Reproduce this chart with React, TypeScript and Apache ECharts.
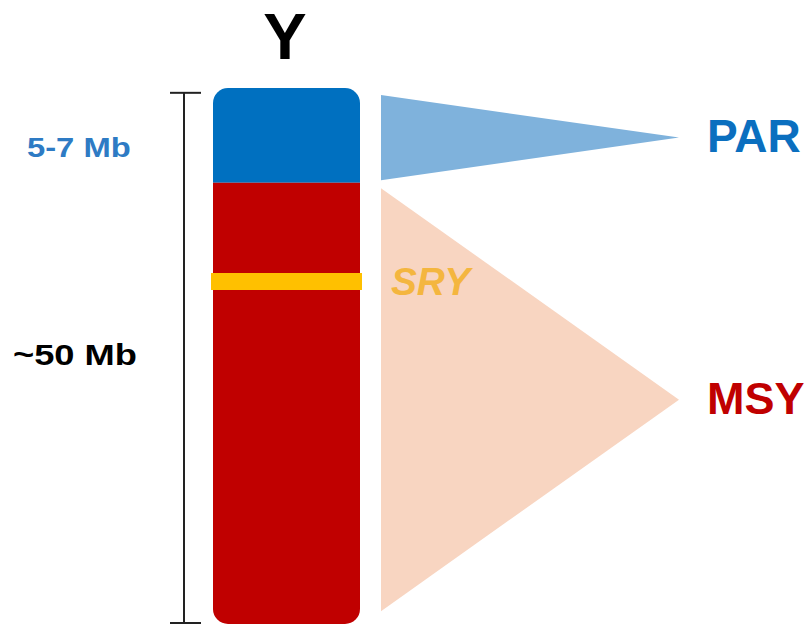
import React, { useEffect, useRef } from "react";
import * as echarts from "echarts";

// Positions along the chromosome, in percent of its length (0 = top, 100 = bottom)
const regionNames = ["PAR", "MSY"];
const regionStart = [0, 17.7];
const regionEnd = [17.7, 100];
const regionColors = ["#0070C0", "#C00000"];

const sryBand = [34.5, 37.7];
const sryColor = "#FFC000";

// Expansion triangles: base start/end along the chromosome
const triStart = [1.3, 18.7];
const triEnd = [17.2, 97.6];
const triColors = ["#7FB2DC", "#F8D5C1"];

// Scale bar extent
const scaleBar = [0.9, 100];

// Labels
const labelTexts = ["Y", "5-7 Mb", "~50 Mb", "SRY", "PAR", "MSY"];
const labelPos = [-9.6, 11.0, 49.8, 36.2, 8.9, 58.0];
const labelColors = ["#000000", "#2E7BC4", "#000000", "#F4B63F", "#0B6FBF", "#C00000"];

const FONT = "'Liberation Sans', Arial, sans-serif";

export default function App() {
  const ref = useRef<HTMLDivElement>(null);
  useEffect(() => {
    if (!ref.current) return;
    const chart = echarts.init(ref.current, undefined, { renderer: "svg" });

    const chromX0 = 213;
    const chromX1 = 360;
    const triX0 = 381;
    const apexX = 679;
    const barX = 184;

    const labelLayout = [
      { x: 285, align: "center", size: 65, italic: false, sx: 1 },
      { x: 27, align: "left", size: 28, italic: false, sx: 1.17 },
      { x: 13, align: "left", size: 30, italic: false, sx: 1.21 },
      { x: 391, align: "left", size: 38, italic: true, sx: 1.02 },
      { x: 707, align: "left", size: 46, italic: false, sx: 1 },
      { x: 707, align: "left", size: 45, italic: false, sx: 1 },
    ];

    const renderItem = (params: any, api: any) => {
      const c = (x: number, u: number) => api.coord([x, u]);
      const children: any[] = [];

      // expansion triangles
      for (let i = 0; i < triStart.length; i++) {
        const a = c(triX0, triStart[i]);
        const b = c(triX0, triEnd[i]);
        const m = c(apexX, (triStart[i] + triEnd[i]) / 2);
        children.push({
          type: "polygon",
          shape: { points: [a, m, b] },
          style: { fill: triColors[i] },
        });
      }

      // chromosome segments
      for (let i = 0; i < regionNames.length; i++) {
        const p0 = c(chromX0, regionStart[i]);
        const p1 = c(chromX1, regionEnd[i]);
        const r =
          i === 0 ? [15, 15, 0, 0] : i === regionNames.length - 1 ? [0, 0, 15, 15] : 0;
        children.push({
          type: "rect",
          shape: { x: p0[0], y: p0[1], width: p1[0] - p0[0], height: p1[1] - p0[1], r },
          style: { fill: regionColors[i] },
        });
      }

      // SRY band
      {
        const p0 = c(chromX0 - 2, sryBand[0]);
        const p1 = c(chromX1 + 2, sryBand[1]);
        children.push({
          type: "rect",
          shape: { x: p0[0], y: p0[1], width: p1[0] - p0[0], height: p1[1] - p0[1] },
          style: { fill: sryColor },
        });
      }

      // scale bar
      {
        const t = c(barX, scaleBar[0]);
        const b = c(barX, scaleBar[1]);
        const stroke = { stroke: "#222222", lineWidth: 2 };
        children.push({ type: "line", shape: { x1: t[0], y1: t[1], x2: b[0], y2: b[1] }, style: stroke });
        children.push({ type: "line", shape: { x1: t[0] - 14, y1: t[1], x2: t[0] + 17, y2: t[1] }, style: stroke });
        children.push({ type: "line", shape: { x1: b[0] - 14, y1: b[1] - 1, x2: b[0] + 17, y2: b[1] - 1 }, style: stroke });
      }

      // labels
      for (let i = 0; i < labelTexts.length; i++) {
        const L = labelLayout[i];
        const p = c(L.x, labelPos[i]);
        children.push({
          type: "text",
          x: p[0],
          y: p[1],
          scaleX: L.sx,
          style: {
            text: labelTexts[i],
            x: 0,
            y: 0,
            fill: labelColors[i],
            fontSize: L.size,
            fontWeight: "bold",
            fontStyle: L.italic ? "italic" : "normal",
            fontFamily: FONT,
            align: L.align,
            verticalAlign: "middle",
          },
        });
      }

      return { type: "group", children };
    };

    chart.setOption({
      animation: false,
      backgroundColor: "#ffffff",
      grid: { left: 0, right: 0, top: 88, bottom: 2 },
      xAxis: { type: "value", min: 0, max: 811, show: false },
      yAxis: { type: "value", min: 0, max: 100, inverse: true, show: false },
      series: [
        {
          type: "custom",
          renderItem,
          data: [[0, 0]],
          clip: false,
          silent: true,
        },
      ],
    });

    return () => chart.dispose();
  }, []);

  return <div ref={ref} style={{ width: 811, height: 626, position: "fixed", left: 0, top: 0 }} />;
}
